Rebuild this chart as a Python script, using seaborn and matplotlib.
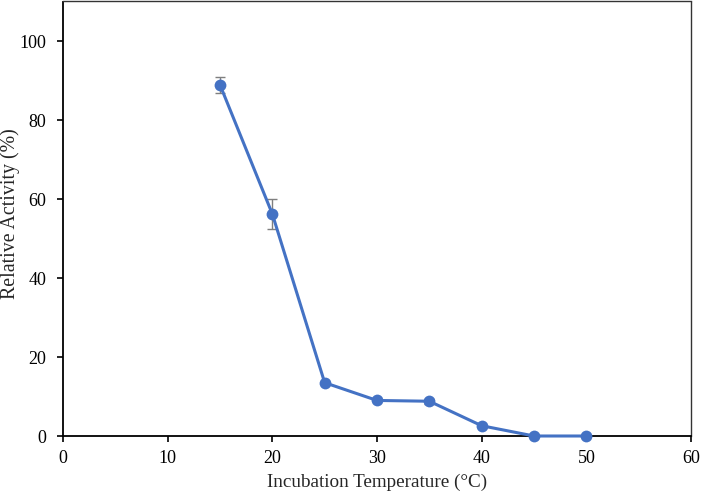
import pandas as pd
import seaborn as sns
import matplotlib.pyplot as plt

# dados
temperatura = [15, 20, 25, 30, 35, 40, 45, 50]
atividade = [88.9, 56.2, 13.5, 9.0, 8.8, 2.6, 0.0, 0.0]
erro = [2.1, 3.9, 0.0, 0.0, 0.6, 0.0, 0.0, 0.0]

df = pd.DataFrame({"temp": temperatura, "act": atividade, "err": erro})

sns.set_theme(style="white")
plt.rcParams.update({
    "font.family": ["Liberation Serif", "DejaVu Serif"],
    "font.size": 13,
})

cor = "#4472C4"

fig = plt.figure(figsize=(7.01, 4.94), dpi=100)
ax = fig.add_axes([63 / 701, 58 / 494, 628 / 701, 434.5 / 494])

ax.errorbar(df["temp"], df["act"], yerr=df["err"], fmt="none",
            ecolor="#7f7f7f", elinewidth=1.0, capsize=3.5, capthick=1.0, zorder=2)
sns.lineplot(data=df, x="temp", y="act", ax=ax, color=cor, linewidth=2.2,
             marker="o", markersize=8.5, markeredgewidth=0, zorder=3, clip_on=False)

ax.set_xlim(0, 60)
ax.set_ylim(0, 110)
ax.set_xticks(range(0, 61, 10))
ax.set_yticks(range(0, 101, 20))

ax.set_xlabel("Incubation Temperature (°C)", fontsize=13.8)
ax.set_ylabel("Relative Activity (%)", fontsize=14.3)
ax.xaxis.label.set_va("center")
ax.yaxis.label.set_va("center")
ax.xaxis.set_label_coords(0.5, -46 / 434.5)
ax.yaxis.set_label_coords(-53 / 628, 0.511)

for s in ax.spines.values():
    s.set_visible(True)
    s.set_color("#333333")
    s.set_linewidth(1.0)
ax.spines["left"].set_color("black")
ax.spines["bottom"].set_color("black")
ax.spines["left"].set_linewidth(1.3)
ax.spines["bottom"].set_linewidth(1.3)

ax.tick_params(axis="both", direction="out", length=4, width=1.2,
               colors="black", labelsize=13, bottom=True, left=True)
ax.tick_params(axis="y", pad=8)
ax.tick_params(axis="x", pad=6)

plt.savefig("out.png", dpi=100)
